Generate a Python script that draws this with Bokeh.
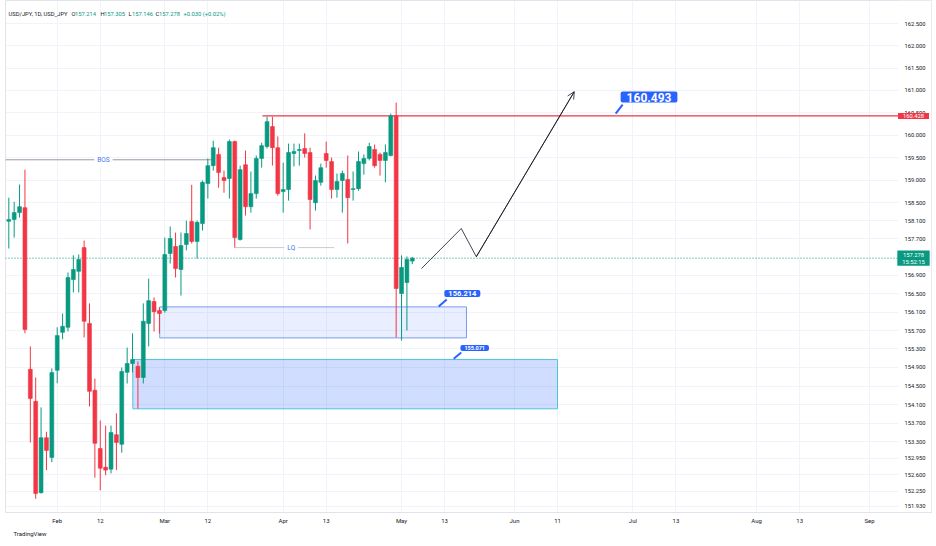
import pandas as pd
from bokeh.plotting import figure
from bokeh.models import (Range1d, FixedTicker, Label, Arrow, OpenHead, Title,
                          ColumnDataSource, PrintfTickFormatter)
from bokeh.embed import file_html
from bokeh.resources import INLINE

# ---------------- data ----------------
start_date = "2026-01-20"
opens = [158.09, 158.13, 158.28, 158.39, 154.86, 154.17, 152.22, 153.39, 152.97, 154.84,
         155.66, 155.77, 156.81, 156.99, 157.51, 155.855, 154.41, 153.16, 152.76, 152.72,
         153.455, 153.25, 154.795, 154.985, 154.925, 154.685, 155.855, 156.33, 156.135, 156.135,
         157.38, 157.535, 157.03, 157.58, 158.085, 157.645, 158.04, 158.925, 159.32, 159.57,
         159.055, 159.035, 159.855, 157.69, 159.34, 158.41, 158.70, 159.48, 159.745, 160.19,
         159.72, 158.745, 158.79, 159.59, 159.655, 159.70, 159.61, 158.50, 158.95, 159.59,
         159.41, 158.79, 158.99, 159.015, 158.79, 158.81, 159.365, 159.48, 159.68, 159.57,
         159.435, 159.545, 160.43, 156.505, 156.745, 157.214]
highs = [158.61, 158.52, 158.90, 159.23, 155.355, 154.685, 154.04, 153.52, 154.88, 155.77,
         156.07, 156.965, 157.34, 157.36, 157.665, 156.29, 154.66, 153.76, 153.65, 153.65,
         153.915, 154.90, 155.33, 155.64, 155.03, 156.29, 156.83, 156.42, 156.20, 157.73,
         157.975, 157.84, 157.84, 158.105, 158.895, 158.105, 158.99, 159.48, 159.875, 159.72,
         159.21, 159.90, 159.875, 159.32, 159.655, 159.19, 159.545, 159.83, 160.41, 160.41,
         159.97, 159.385, 159.81, 159.81, 159.81, 160.04, 159.72, 159.10, 159.365, 159.855,
         159.50, 159.145, 159.21, 159.545, 159.19, 159.635, 159.57, 159.83, 159.79, 159.61,
         159.79, 160.48, 160.725, 157.34, 157.315, 157.305]
lows = [157.49, 157.73, 158.17, 155.64, 153.29, 152.09, 152.20, 152.70, 152.87, 154.56,
        155.51, 155.68, 156.53, 156.53, 155.55, 154.06, 152.54, 152.27, 152.59, 152.63,
        152.70, 153.07, 154.555, 154.795, 154.015, 154.555, 155.355, 155.68, 155.635, 156.09,
        157.16, 156.855, 156.46, 157.45, 157.60, 157.27, 157.885, 158.59, 159.21, 158.83,
        158.72, 158.59, 157.51, 157.665, 158.215, 158.28, 158.59, 159.275, 159.70, 159.32,
        158.655, 158.28, 158.545, 159.30, 159.32, 159.50, 157.91, 158.325, 158.875, 159.275,
        158.59, 158.61, 158.28, 157.60, 158.545, 158.765, 159.12, 159.435, 159.275, 159.10,
        158.95, 159.525, 155.55, 155.485, 155.70, 157.146]
closes = [158.13, 158.28, 158.41, 155.72, 154.23, 152.20, 153.39, 153.12, 154.79, 155.59,
          155.79, 156.855, 157.03, 157.25, 155.90, 154.385, 153.27, 152.74, 152.70, 153.50,
          153.29, 154.815, 154.985, 155.07, 154.685, 155.90, 156.35, 156.11, 156.07, 157.36,
          157.71, 157.05, 157.555, 157.82, 157.645, 158.065, 158.95, 159.32, 159.72, 159.165,
          158.99, 159.855, 157.73, 159.23, 158.41, 158.70, 159.48, 159.765, 160.30, 159.72,
          158.70, 158.79, 159.61, 159.635, 159.68, 159.59, 158.57, 158.99, 159.275, 159.435,
          158.79, 158.97, 159.145, 158.61, 158.81, 159.41, 159.48, 159.745, 159.32, 159.435,
          159.61, 160.43, 156.615, 157.075, 157.25, 157.278]

price_ticks = [162.5, 162.0, 161.5, 161.0, 160.5, 160.0, 159.5, 159.0, 158.5, 158.1, 157.7,
               156.9, 156.5, 156.1, 155.7, 155.3, 154.9, 154.5, 154.1, 153.7, 153.3,
               152.95, 152.6, 152.25, 151.93]
date_ticks = ["2026-02-02", "2026-02-12", "2026-03-02", "2026-03-12", "2026-04-01",
              "2026-04-13", "2026-05-01", "2026-05-13", "2026-06-01", "2026-06-11",
              "2026-07-01", "2026-07-13", "2026-08-03", "2026-08-13", "2026-09-01"]
date_tick_labels = ["Feb", "12", "Mar", "12", "Apr", "13", "May", "13", "Jun", "11",
                    "Jul", "13", "Aug", "13", "Sep"]

bos_level = 159.45
bos_span = [-0.61, 38.05]
lq_level = 157.51
lq_span = [42.0, 60.5]
resistance_level = 160.428
resistance_start = 47.15
last_price = 157.278
countdown = "15:52:15"
zone_upper = [156.214, 155.54]
zone_upper_span = [28.05, 85.07]
zone_lower = [155.071, 154.01]
zone_lower_span = [23.05, 101.99]
target_level = 160.493
path_bars = [76.7, 84.1, 86.9, 105.1]
path_prices = [157.05, 157.93, 157.31, 160.97]

header_name = "USD/JPY, 1D, USD_JPY"
ohlc_keys = ["O", "H", "L", "C"]
ohlc_vals = ["157.214", "157.305", "157.146", "157.278"]
change_txt = "+0.030 (+0.02%)"

GREEN = "#089981"
RED = "#f23645"
BLUE = "#2962ff"
TXT = "#131722"
FONT = "Roboto"

# ---------------- layout ----------------
dates = pd.bdate_range(start_date, periods=200)
bar_of = {d.strftime("%Y-%m-%d"): i for i, d in enumerate(dates)}
tick_pos = [bar_of[d] for d in date_ticks]

n = len(opens)
xs = list(range(n))
cols = [GREEN if c >= o else RED for o, c in zip(opens, closes)]
src = ColumnDataSource(dict(
    x=xs, o=opens, h=highs, l=lows, c=closes,
    top=[max(o, c) for o, c in zip(opens, closes)],
    bottom=[min(o, c) for o, c in zip(opens, closes)],
    color=cols))

px_per_bar = 5.38
x_left = -0.613
x_pane_end = x_left + 881 / px_per_bar      # end of the candle pane
x_scale_start = x_left + 893 / px_per_bar   # start of price-scale labels
x_right = x_left + 926 / px_per_bar
x_label = x_left + 908 / px_per_bar
y_lo, y_hi = 151.80, 163.03

p = figure(width=936, height=546, y_axis_type="log", y_axis_location="right",
           x_range=Range1d(x_left, x_right), y_range=Range1d(y_lo, y_hi),
           output_backend="svg", toolbar_location=None,
           min_border_left=5, min_border_right=5, min_border_top=0,
           min_border_bottom=34)
p.background_fill_color = "white"
p.border_fill_color = "white"
p.outline_line_color = "#e0e3eb"

# axes
yax = p.yaxis[0]
yax.ticker = FixedTicker(ticks=price_ticks, minor_ticks=[])
yax.formatter = PrintfTickFormatter(format="%.3f")
yax.axis_line_color = None
yax.major_tick_out = 0
yax.major_tick_in = 0
yax.major_tick_line_color = None
yax.minor_tick_line_color = None
yax.major_label_standoff = -27
yax.major_label_text_font = FONT
yax.major_label_text_font_size = "5.8px"
yax.major_label_text_color = TXT

xax = p.xaxis[0]
xax.ticker = FixedTicker(ticks=tick_pos, minor_ticks=[])
xax.major_label_overrides = {t: lab for t, lab in zip(tick_pos, date_tick_labels)}
xax.axis_line_color = "#e0e3eb"
xax.major_tick_out = 0
xax.major_tick_in = 0
xax.major_tick_line_color = None
xax.minor_tick_line_color = None
xax.major_label_standoff = 4
xax.major_label_text_font = FONT
xax.major_label_text_font_size = "6px"
xax.major_label_text_color = TXT

p.xgrid.ticker = FixedTicker(ticks=tick_pos, minor_ticks=[])
p.ygrid.ticker = FixedTicker(ticks=price_ticks, minor_ticks=[])
p.xgrid.grid_line_color = "#f0f3fa"
p.ygrid.grid_line_color = "#f0f3fa"

# price-scale background (white, covers grid behind labels)
p.quad(left=[x_scale_start], right=[x_right], top=[y_hi], bottom=[y_lo],
       fill_color="white", line_color=None)

# zones
p.quad(left=[zone_lower_span[0]], right=[zone_lower_span[1]], top=[zone_lower[0]],
       bottom=[zone_lower[1]], fill_color=BLUE, fill_alpha=0.22,
       line_color="#4fc3dd", line_width=1)
p.quad(left=[zone_upper_span[0]], right=[zone_upper_span[1]], top=[zone_upper[0]],
       bottom=[zone_upper[1]], fill_color=BLUE, fill_alpha=0.1,
       line_color="#7b9be9", line_width=1)

# horizontal levels
p.segment(x0=[bos_span[0]], x1=[bos_span[1]], y0=[bos_level], y1=[bos_level],
          line_color="#9598a1", line_width=1)
p.segment(x0=[lq_span[0]], x1=[lq_span[1]], y0=[lq_level], y1=[lq_level],
          line_color="#c9cbd1", line_width=1)
p.segment(x0=[x_left], x1=[x_scale_start], y0=[last_price], y1=[last_price],
          line_color=GREEN, line_width=1, line_dash="1 2")
p.segment(x0=[resistance_start], x1=[x_scale_start], y0=[resistance_level],
          y1=[resistance_level], line_color=RED, line_width=1.2)

# candles
p.segment(x0="x", x1="x", y0="l", y1="h", line_color="color", line_width=1, source=src)
p.vbar(x="x", width=0.72, top="top", bottom="bottom", fill_color="color",
       line_color="color", line_width=0.6, source=src)

# projected path
p.line(path_bars, path_prices, line_color=TXT, line_width=0.8)
p.add_layout(Arrow(end=OpenHead(size=7, line_width=0.8, line_color=TXT),
                   x_start=path_bars[-2], y_start=path_prices[-2],
                   x_end=path_bars[-1], y_end=path_prices[-1],
                   line_width=0.8, line_color=TXT))

# text on lines
p.add_layout(Label(x=17.6, y=bos_level, text="BOS", text_font=FONT, text_font_size="6.5px",
                   text_color="#4470f2", text_align="center", text_baseline="middle",
                   background_fill_color="white", padding=3))
p.add_layout(Label(x=52.5, y=lq_level, text="LQ", text_font=FONT, text_font_size="6.5px",
                   text_color="#4470f2", text_align="center", text_baseline="middle",
                   background_fill_color="white", padding=3))

# callouts (tail + box)
p.segment(x0=[114.1, 81.4, 84.1], y0=[160.683, 156.374, 155.224],
          x1=[112.8, 79.9, 82.7], y1=[160.48, 156.222, 155.09],
          line_color=BLUE, line_width=2)
p.add_layout(Label(x=119.0, y=160.85, text=f"{target_level:.3f}", text_font=FONT,
                   text_font_size="12px", text_font_style="bold", text_color="white",
                   text_align="center", text_baseline="middle",
                   background_fill_color=BLUE, border_radius=2,
                   padding=dict(left=6, right=6, top=1, bottom=1)))
p.add_layout(Label(x=84.3, y=156.505, text=f"{zone_upper[0]:.3f}", text_font=FONT,
                   text_font_size="7.5px", text_font_style="bold", text_color="white",
                   text_align="center", text_baseline="middle",
                   background_fill_color=BLUE, border_radius=2,
                   padding=dict(left=4, right=4, top=1, bottom=1)))
p.add_layout(Label(x=86.6, y=155.32, text=f"{zone_lower[0]:.3f}", text_font=FONT,
                   text_font_size="5.5px", text_font_style="bold", text_color="white",
                   text_align="center", text_baseline="middle",
                   background_fill_color=BLUE, border_radius=2,
                   padding=dict(left=4, right=4, top=1, bottom=1)))

# price scale labels
p.add_layout(Label(x=x_label, y=resistance_level, text=f"{resistance_level:.3f}",
                   text_font=FONT, text_font_size="5.8px", text_color="white",
                   text_align="center", text_baseline="middle",
                   background_fill_color=RED,
                   padding=dict(left=5, right=5, top=1, bottom=1)))
p.add_layout(Label(x=x_label, y=last_price, text=f"{last_price:.3f}\n{countdown}",
                   text_font=FONT, text_font_size="5.8px", text_color="white",
                   text_align="center", text_baseline="middle",
                   background_fill_color=GREEN,
                   padding=dict(left=5, right=5, top=1, bottom=1)))

# header legend
hy = 499
p.add_layout(Label(x=3, y=hy, x_units="screen", y_units="screen", text=header_name,
                   text_font=FONT, text_font_size="5.8px", text_color=TXT,
                   text_baseline="middle"))
key_x = [66, 95, 123, 150]
for kx, k, v in zip(key_x, ohlc_keys, ohlc_vals):
    p.add_layout(Label(x=kx, y=hy, x_units="screen", y_units="screen", text=k,
                       text_font=FONT, text_font_size="5.8px", text_color=TXT,
                       text_baseline="middle"))
    p.add_layout(Label(x=kx + 3.5, y=hy, x_units="screen", y_units="screen", text=v,
                       text_font=FONT, text_font_size="5.8px", text_color=GREEN,
                       text_baseline="middle"))
p.add_layout(Label(x=178, y=hy, x_units="screen", y_units="screen", text=change_txt,
                   text_font=FONT, text_font_size="5.8px", text_color=GREEN,
                   text_baseline="middle"))

# footer
p.add_layout(Title(text="TradingView", align="left", offset=8, standoff=2,
                   text_font=FONT, text_font_size="6px", text_font_style="normal",
                   text_color=TXT), "below")

open("out.html", "w").write(file_html(p, INLINE))
